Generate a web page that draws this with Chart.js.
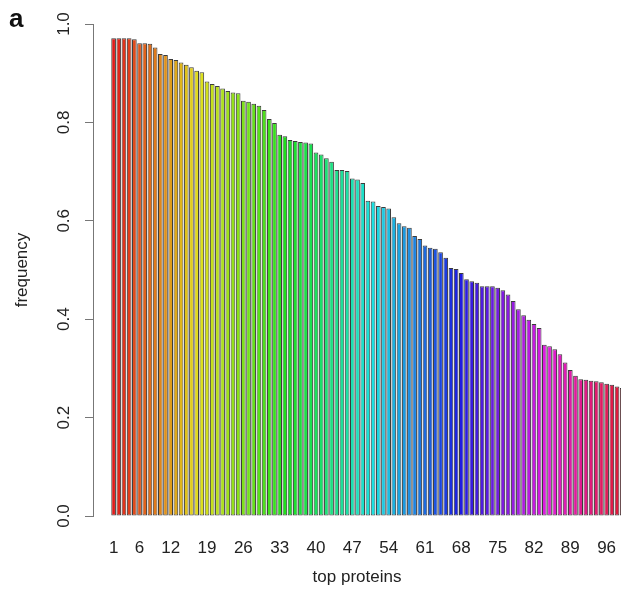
<!DOCTYPE html>
<html>
<head>
<meta charset="utf-8">
<script src="https://cdn.jsdelivr.net/npm/chart.js@4/dist/chart.umd.min.js"></script>
<style>
  html, body { margin: 0; padding: 0; background: #fff; }
  #wrap { width: 621px; height: 591px; overflow: hidden; }
</style>
</head>
<body>
<div id="wrap"><canvas id="chart" width="621" height="591"></canvas></div>
<script>
// protein rank (x) and how often each one shows up (y)
const ranks = [
  1, 2, 3, 4, 5, 6, 7, 8, 9, 10, 11, 12, 13, 14, 15, 16, 17, 18, 19, 20,
  21, 22, 23, 24, 25, 26, 27, 28, 29, 30, 31, 32, 33, 34, 35, 36, 37, 38, 39, 40,
  41, 42, 43, 44, 45, 46, 47, 48, 49, 50, 51, 52, 53, 54, 55, 56, 57, 58, 59, 60,
  61, 62, 63, 64, 65, 66, 67, 68, 69, 70, 71, 72, 73, 74, 75, 76, 77, 78, 79, 80,
  81, 82, 83, 84, 85, 86, 87, 88, 89, 90, 91, 92, 93, 94, 95, 96, 97, 98, 99, 100
];
const frequency = [
  0.971, 0.971, 0.971, 0.971, 0.969, 0.961, 0.961, 0.960, 0.952, 0.939,
  0.937, 0.929, 0.927, 0.922, 0.917, 0.912, 0.905, 0.902, 0.883, 0.878,
  0.874, 0.869, 0.864, 0.861, 0.859, 0.844, 0.842, 0.838, 0.834, 0.825,
  0.807, 0.799, 0.775, 0.772, 0.764, 0.762, 0.760, 0.759, 0.757, 0.739,
  0.735, 0.727, 0.720, 0.703, 0.703, 0.701, 0.686, 0.684, 0.677, 0.641,
  0.639, 0.630, 0.628, 0.625, 0.607, 0.595, 0.589, 0.586, 0.569, 0.563,
  0.550, 0.545, 0.543, 0.536, 0.525, 0.504, 0.502, 0.494, 0.481, 0.477,
  0.474, 0.467, 0.467, 0.467, 0.464, 0.459, 0.450, 0.437, 0.420, 0.408,
  0.399, 0.390, 0.382, 0.348, 0.345, 0.339, 0.329, 0.312, 0.297, 0.285,
  0.278, 0.277, 0.275, 0.274, 0.272, 0.269, 0.267, 0.263, 0.260, 0.256
];
const xTickLabels = [1, 6, 12, 19, 26, 33, 40, 47, 54, 61, 68, 75, 82, 89, 96];
const yTickLabels = [0, 0.2, 0.4, 0.6, 0.8, 1.0];

const FONT = '"Liberation Sans", Arial, Helvetica, sans-serif';
const TEXT = '#222';
const AXIS = '#777';

// R style rainbow(): hue walks once round the wheel
function rainbow (n, s, v) {
  const out = [];
  for (let i = 0; i < n; i++) {
    const h = i / n * 6;
    const k = Math.floor(h);
    const f = h - k;
    const p = v * (1 - s), q = v * (1 - s * f), t = v * (1 - s * (1 - f));
    const rgb = [[v, t, p], [q, v, p], [p, v, t], [p, q, v], [t, p, v], [v, p, q]][k % 6];
    out.push('rgb(' + rgb.map(c => Math.round(c * 255)).join(',') + ')');
  }
  return out;
}

// bold panel letter in the corner
const panelLabel = {
  id: 'panelLabel',
  afterDraw (chart) {
    const ctx = chart.ctx;
    ctx.save();
    ctx.font = 'bold 26px ' + FONT;
    ctx.fillStyle = '#111';
    ctx.fillText('a', 9, 27);
    ctx.restore();
  }
};

new Chart(document.getElementById('chart'), {
  type: 'bar',
  data: {
    datasets: [{
      data: ranks.map((r, i) => ({ x: r, y: frequency[i] })),
      backgroundColor: rainbow(ranks.length, 0.88, 0.88),
      borderColor: 'rgba(25,25,25,0.85)',
      borderWidth: 1,
      borderSkipped: false,
      categoryPercentage: 1,
      barPercentage: 0.9
    }]
  },
  options: {
    responsive: false,
    animation: false,
    layout: { padding: { top: 24, right: 0, bottom: 0, left: 0 } },
    plugins: {
      legend: { display: false },
      tooltip: { enabled: false }
    },
    scales: {
      x: {
        type: 'linear',
        offset: false,
        min: -2.97,
        max: 98.77,
        grid: { display: false, drawTicks: false },
        border: { display: false },
        afterBuildTicks: s => { s.ticks = xTickLabels.map(v => ({ value: v })); },
        ticks: {
          padding: 22,
          color: TEXT,
          font: { family: FONT, size: 17 },
          maxRotation: 0,
          autoSkip: false
        },
        title: {
          display: true,
          text: 'top proteins',
          color: TEXT,
          font: { family: FONT, size: 17 },
          padding: { top: 0, bottom: 3 }
        },
        afterFit: s => {
          s.height = 75;
          s.paddingLeft = 0;
          s.paddingRight = 0;
        }
      },
      y: {
        min: 0,
        max: 1,
        afterBuildTicks: s => { s.ticks = yTickLabels.map(v => ({ value: v })); },
        grid: { drawOnChartArea: false, tickLength: 8, color: AXIS },
        border: { display: true, color: AXIS },
        ticks: {
          minRotation: 90,
          maxRotation: 90,
          crossAlign: 'center',
          padding: 9,
          color: TEXT,
          font: { family: FONT, size: 17 },
          callback: v => v.toFixed(1)
        },
        title: {
          display: true,
          text: 'frequency',
          color: TEXT,
          font: { family: FONT, size: 17 },
          padding: { top: 12, bottom: 0 }
        },
        afterFit: s => {
          s.width = 93;
          s.paddingTop = 0;
          s.paddingBottom = 0;
        }
      }
    }
  },
  plugins: [panelLabel]
});
</script>
</body>
</html>
